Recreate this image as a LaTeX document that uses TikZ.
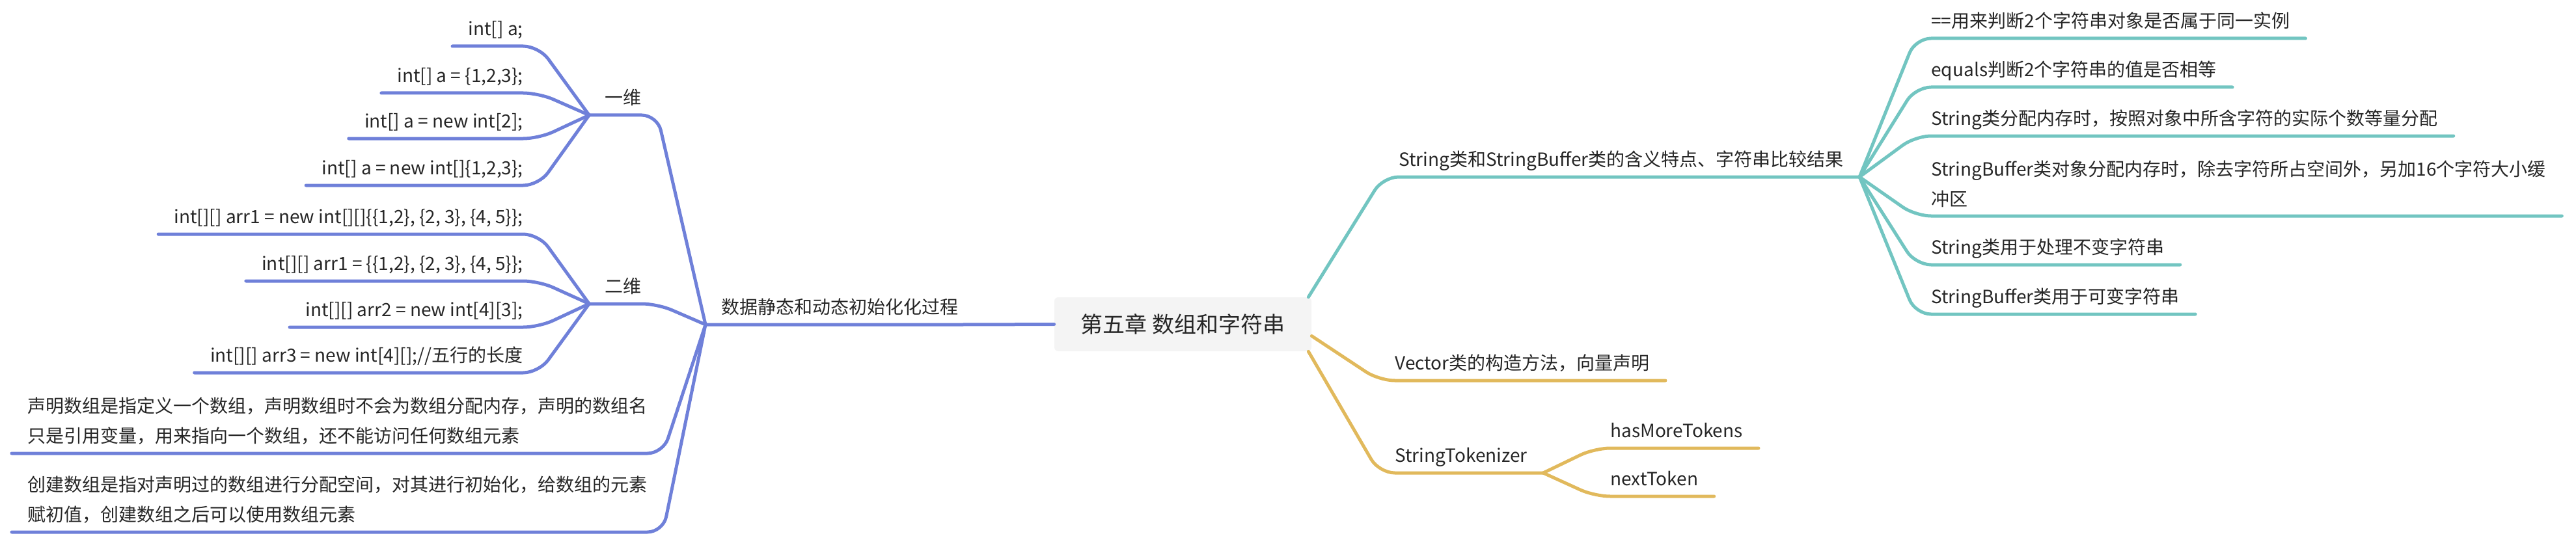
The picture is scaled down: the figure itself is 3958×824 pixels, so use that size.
\documentclass[tikz,border=0pt]{standalone}
\usepackage{fontspec}
\setmainfont{Noto Sans CJK SC}
\usepackage{xcolor}
\usetikzlibrary{positioning}
\definecolor{mmblue}{HTML}{6F80D9}
\definecolor{mmteal}{HTML}{72C5C1}
\definecolor{mmgold}{HTML}{E1B95C}
\definecolor{mmroot}{HTML}{F4F4F4}
\definecolor{mmtext}{HTML}{262626}

\begin{document}
\begin{tikzpicture}[x=0.5pt, y=-0.5pt,
    font=\fontsize{14}{23}\selectfont, text=mmtext,
    topic/.style={inner xsep=12pt, inner ysep=6.2pt, text depth=2pt},
    para/.style={inner xsep=12pt, inner ysep=6.5pt, align=left},
    rootnode/.style={rectangle, rounded corners=3pt, fill=mmroot,
      minimum width=197.5pt, minimum height=41.5pt,
      font=\fontsize{17}{20}\selectfont},
    branch/.style={line width=2.5pt, line cap=round, line join=round,
      rounded corners=12pt},
    blueline/.style={branch, draw=mmblue},
    tealline/.style={branch, draw=mmteal},
    goldline/.style={branch, draw=mmgold},
  ]
    \useasboundingbox (0,0) rectangle (3958,824);

    % centre topic
    \node[rootnode] (root) at (1817.5,498.5) {第五章 数组和字符串};

    % Left: array initialisation
    \node[topic, anchor=south west] (init) at (1084,499) {数据静态和动态初始化化过程};
    \node[topic, anchor=south east] (dim1) at (1010,177) {一维};
    \node[topic, anchor=south east] (oneA) at (828,71)  {int[] a;};
    \node[topic, anchor=south east] (oneB) at (828,143) {int[] a = \{1,2,3\};};
    \node[topic, anchor=south east] (oneC) at (828,213) {int[] a = new int[2];};
    \node[topic, anchor=south east] (oneD) at (828,285) {int[] a = new int[]\{1,2,3\};};
    \node[topic, anchor=south east] (dim2) at (1010,467) {二维};
    \node[topic, anchor=south east] (twoA) at (828,360) {int[][] arr1 = new int[][]\{\{1,2\}, \{2, 3\}, \{4, 5\}\};};
    \node[topic, anchor=south east] (twoB) at (828,432) {int[][] arr1 = \{\{1,2\}, \{2, 3\}, \{4, 5\}\};};
    \node[topic, anchor=south east] (twoC) at (828,503) {int[][] arr2 = new int[4][3];};
    \node[topic, anchor=south east] (twoD) at (828,573) {int[][] arr3 = new int[4][];//五行的长度};
    \node[para, anchor=south west] (decl) at (18,697)
      {声明数组是指定义一个数组，声明数组时不会为数组分配内存，声明的数组名\\只是引用变量，用来指向一个数组，还不能访问任何数组元素};
    \node[para, anchor=south west] (make) at (18,818)
      {创建数组是指对声明过的数组进行分配空间，对其进行初始化，给数组的元素\\赋初值，创建数组之后可以使用数组元素};

    \draw[blueline] (root.west) -- (init.south east) -- (init.south west);
    \draw[blueline] (init.south west) -- (dim1.south east) -- (dim1.south west);
    \draw[blueline] (init.south west) -- (dim2.south east) -- (dim2.south west);
    \draw[blueline] (init.south west) -- (decl.south east) -- (decl.south west);
    \draw[blueline] (init.south west) -- (make.south east) -- (make.south west);
    \draw[blueline] (dim1.south west) -- (oneA.south east) -- (oneA.south west);
    \draw[blueline] (dim1.south west) -- (oneB.south east) -- (oneB.south west);
    \draw[blueline] (dim1.south west) -- (oneC.south east) -- (oneC.south west);
    \draw[blueline] (dim1.south west) -- (oneD.south east) -- (oneD.south west);
    \draw[blueline] (dim2.south west) -- (twoA.south east) -- (twoA.south west);
    \draw[blueline] (dim2.south west) -- (twoB.south east) -- (twoB.south west);
    \draw[blueline] (dim2.south west) -- (twoC.south east) -- (twoC.south west);
    \draw[blueline] (dim2.south west) -- (twoD.south east) -- (twoD.south west);

    % Right: String and StringBuffer
    \node[topic, anchor=south west] (strcls) at (2125,272) {String类和StringBuffer类的含义特点、字符串比较结果};
    \node[topic, anchor=south west] (cmpA) at (2943,59)  {==用来判断2个字符串对象是否属于同一实例};
    \node[topic, anchor=south west] (cmpB) at (2943,134) {equals判断2个字符串的值是否相等};
    \node[topic, anchor=south west] (memA) at (2943,209) {String类分配内存时，按照对象中所含字符的实际个数等量分配};
    \node[para, anchor=south west] (memB) at (2943,332)
      {StringBuffer类对象分配内存时，除去字符所占空间外，另加16个字符大小缓\\冲区};
    \node[topic, anchor=south west] (useA) at (2943,407) {String类用于处理不变字符串};
    \node[topic, anchor=south west] (useB) at (2943,483) {StringBuffer类用于可变字符串};

    \draw[tealline] ([xshift=-2.5pt]root.north east) -- (strcls.south west) -- (strcls.south east);
    \draw[tealline] (strcls.south east) -- (cmpA.south west) -- (cmpA.south east);
    \draw[tealline] (strcls.south east) -- (cmpB.south west) -- (cmpB.south east);
    \draw[tealline] (strcls.south east) -- (memA.south west) -- (memA.south east);
    \draw[tealline] (strcls.south east) -- (memB.south west) -- (memB.south east);
    \draw[tealline] (strcls.south east) -- (useA.south west) -- (useA.south east);
    \draw[tealline] (strcls.south east) -- (useB.south west) -- (useB.south east);

    % Right: Vector and StringTokenizer
    \node[topic, anchor=south west] (vec)  at (2119,585) {Vector类的构造方法，向量声明};
    \node[topic, anchor=south west] (tok)  at (2119,727) {StringTokenizer};
    \node[topic, anchor=south west] (more) at (2450,689) {hasMoreTokens};
    \node[topic, anchor=south west] (next) at (2450,763) {nextToken};

    \draw[goldline] ([yshift=-9pt]root.east) -- (vec.south west) -- (vec.south east);
    \draw[goldline] ([xshift=-2.5pt]root.south east) -- (tok.south west) -- (tok.south east);
    \draw[goldline] (tok.south east) -- (more.south west) -- (more.south east);
    \draw[goldline] (tok.south east) -- (next.south west) -- (next.south east);
  \end{tikzpicture}
\end{document}
